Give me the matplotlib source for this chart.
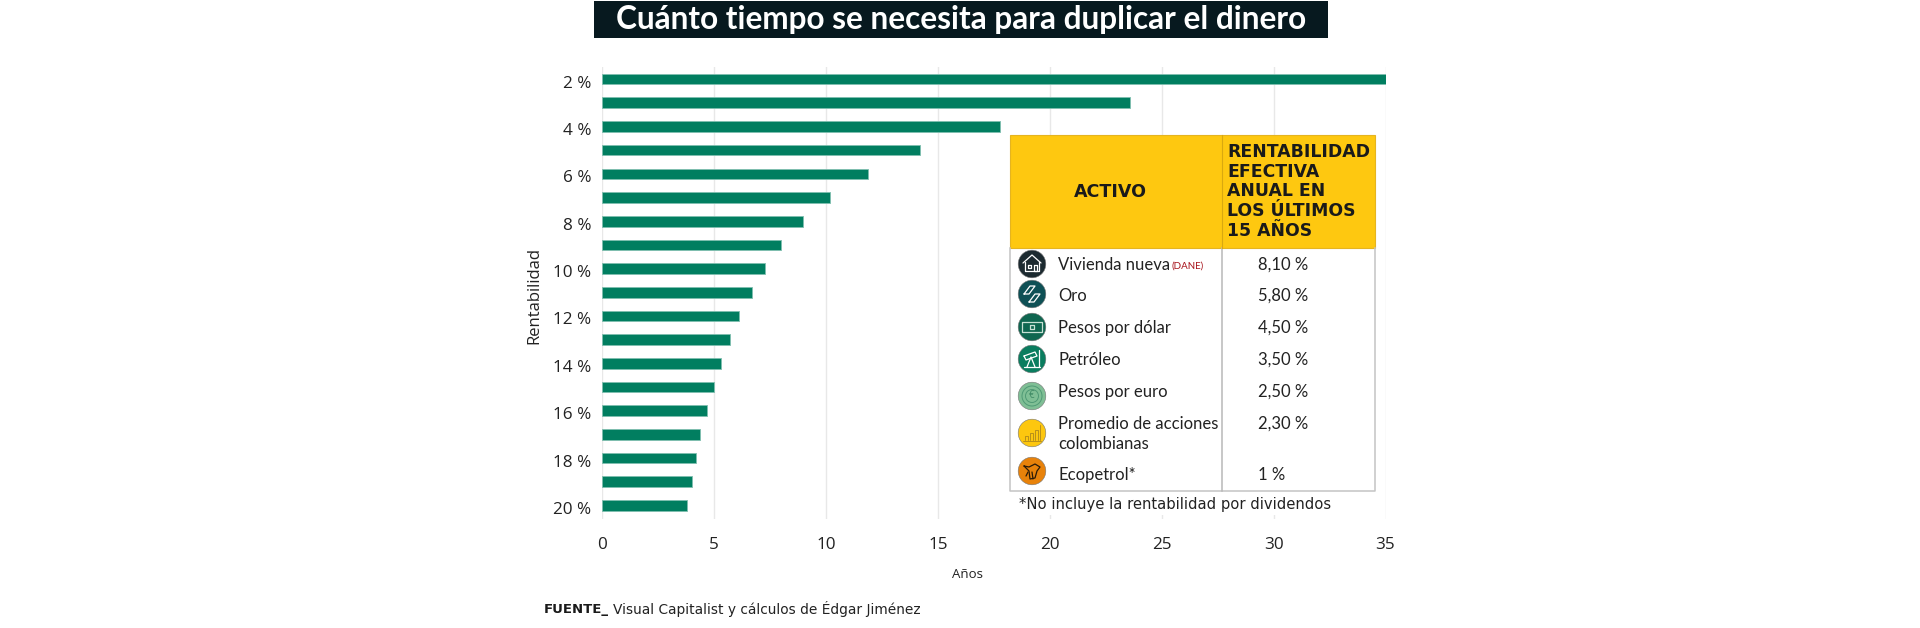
import matplotlib
matplotlib.use("Agg")
import matplotlib.pyplot as plt
from matplotlib.patches import Rectangle, Circle
from matplotlib.transforms import ScaledTranslation

# Data
rentabilidad = ["2 %", "", "4 %", "", "6 %", "", "8 %", "", "10 %", "", "12 %", "",
                "14 %", "", "16 %", "", "18 %", "", "20 %"]
anios = [35.0, 23.6, 17.8, 14.2, 11.9, 10.2, 9.0, 8.0, 7.3, 6.7, 6.1, 5.7, 5.3, 5.0,
         4.7, 4.4, 4.2, 4.0, 3.8]
x_ticks = [0, 5, 10, 15, 20, 25, 30, 35]

activos = ["Vivienda nueva", "Oro", "Pesos por dólar", "Petróleo", "Pesos por euro",
           "Promedio de acciones\ncolombianas", "Ecopetrol*"]
retornos = ["8,10 %", "5,80 %", "4,50 %", "3,50 %", "2,50 %", "2,30 %", "1 %"]
icon_colors = ["#1c2a30", "#0e5055", "#0f6650", "#0a7d5f", "#7fbf95", "#fdc70f", "#e8820a"]

GREEN = "#017e60"
TEXT = "#222222"
W, H = 1920, 628

plt.rcParams['font.family'] = ['Open Sans', 'DejaVu Sans']
fig = plt.figure(figsize=(W / 100, H / 100), dpi=100, facecolor="white")

# main chart, pixel box 602-1385.5 / 67-519
ax = fig.add_axes([602 / W, 1 - 519 / H, (1385.5 - 602) / W, (519 - 67) / H])
ax.barh(range(len(anios)), anios, height=0.45, color=GREEN, edgecolor="#7fbfaf",
        linewidth=0.6, zorder=3)
ax.set_xlim(0, 35)
ax.set_ylim(18.57, -0.51)
ax.set_yticks(range(len(rentabilidad)))
ax.set_yticklabels(rentabilidad, color=TEXT)
ax.set_xticks(x_ticks)
ax.tick_params(axis='both', length=0, labelsize=12.3, labelcolor=TEXT)
ax.tick_params(axis='x', pad=13)
ax.tick_params(axis='y', pad=7.5)
ax.grid(axis='x', color="#e8e8e8", linewidth=1, zorder=0)
for s in ax.spines.values():
    s.set_visible(False)
# y labels sit a little below their bars in the original
for lab in ax.get_yticklabels():
    lab.set_transform(lab.get_transform() + ScaledTranslation(0, -0.025, fig.dpi_scale_trans))

# overlay in pixel coordinates for title, table and notes
ov = fig.add_axes([0, 0, 1, 1], facecolor="none")
ov.set_xlim(0, W)
ov.set_ylim(H, 0)
ov.axis("off")

ov.text(534, 296, "Rentabilidad", rotation=90, ha="center", va="center", fontsize=12, color=TEXT)
ov.text(967, 574, "Años", ha="center", va="center", fontsize=9.5, color=TEXT)

# title banner
ov.add_patch(Rectangle((594, 1), 734, 37, facecolor="#07191f", edgecolor="none"))
ov.text(961, 19, "Cuánto tiempo se necesita para duplicar el dinero", ha="center", va="center",
        color="white", fontsize=22.7, fontweight="bold", family=["Lato", "DejaVu Sans"])

# table
L, R, DIV, TOP, HEAD, BOT = 1009.5, 1374.5, 1222, 135, 248, 491
HEADFONT = ["DejaVu Sans"]
ov.add_patch(Rectangle((L - 4, TOP), R - L + 8, 515 - TOP, facecolor="white", edgecolor="none", zorder=1))
ov.add_patch(Rectangle((L, TOP), R - L, HEAD - TOP, facecolor="#fec810", edgecolor="#e5b420", linewidth=0.8, zorder=2))
ov.plot([L, L, R, R], [HEAD, BOT, BOT, HEAD], color="#c4c4c4", lw=1.1, zorder=2)
ov.plot([DIV, DIV], [HEAD, BOT], color="#b8b8b8", lw=1.1, zorder=2)
ov.plot([DIV, DIV], [TOP, HEAD], color="#d9a80f", lw=0.8, zorder=3)

ov.text(1110, 192, "ACTIVO", ha="center", va="center", fontsize=12.6, fontweight="bold",
        color="#1a1a1a", family=HEADFONT, zorder=4)
header_lines = ["RENTABILIDAD", "EFECTIVA", "ANUAL EN", "LOS ÚLTIMOS", "15 AÑOS"]
for i, line in enumerate(header_lines):
    ov.text(1227, 152 + i * 19.7, line, ha="left", va="center", fontsize=12.4, fontweight="bold",
            color="#1a1a1a", family=HEADFONT, zorder=4)

row_y = [265, 296, 328, 360, 392, 424, 475]
icon_y = [264, 294, 327, 359, 396, 433, 471]
BODY = ["Lato", "DejaVu Sans"]
for name, val, y, iy, col in zip(activos, retornos, row_y, icon_y, icon_colors):
    ov.add_patch(Circle((1032, iy), 13.8, facecolor=col, edgecolor="#777777", linewidth=0.4, zorder=4))
    for k, part in enumerate(name.split("\n")):
        ov.text(1058, y + k * 20, part, ha="left", va="center", fontsize=12, color=TEXT,
                family=BODY, zorder=4)
    ov.text(1258, y, val, ha="left", va="center", fontsize=12, color=TEXT, family=BODY, zorder=4)
ov.text(1172, 266, "(DANE)", ha="left", va="center", fontsize=7, color="#a8141c", family=BODY, zorder=4)


def glyph(cx, cy, segs, color="white", lw=0.9):
    # small line icon, segs are offsets from the circle centre
    for seg in segs:
        ov.plot([cx + p[0] for p in seg], [cy + p[1] for p in seg], color=color, lw=lw, zorder=5,
                solid_capstyle="round")


glyph(1032, 264, [[(-9, -1), (0, -9), (9, -1)], [(-7, -2), (-7, 7), (7, 7), (7, -2)],
                  [(-4, 1), (-1, 1), (-1, 4), (-4, 4), (-4, 1)], [(2, 1), (5, 1), (5, 7), (2, 7), (2, 1)]])
glyph(1032, 294, [[(-8, 0), (-2, -8), (3, -8), (-3, 0), (-8, 0)], [(-3, 8), (3, 0), (8, 0), (2, 8), (-3, 8)]])
glyph(1032, 327, [[(-10, -5), (10, -5), (10, 5), (-10, 5), (-10, -5)], [(-2, -2), (2, -2), (2, 2), (-2, 2), (-2, -2)]],
      color="#c8e0d4")
glyph(1032, 359, [[(-8, 8), (8, 8)], [(-5, 8), (-1, -2), (3, 8)], [(-8, -3), (3, -7), (5, -3), (-6, 1), (-8, -3)],
                  [(7, -9), (7, 8)]])
ov.add_patch(Circle((1032, 396), 10, facecolor="none", edgecolor="#4f9a75", linewidth=0.7, zorder=5))
ov.add_patch(Circle((1032, 396), 6.5, facecolor="none", edgecolor="#4f9a75", linewidth=0.7, zorder=5))
ov.text(1032, 396, "€", ha="center", va="center", fontsize=7, color="#3f8a65", zorder=5)
glyph(1032, 433, [[(-7, 7), (-7, 3), (-4, 3), (-4, 7)], [(-2, 7), (-2, 0), (1, 0), (1, 7)],
                  [(3, 7), (3, -3), (6, -3), (6, 7)], [(-9, 8), (9, 8)], [(8, 7), (8, -8)]],
      color="#b8901a", lw=0.7)
glyph(1032, 471, [[(-8, -5), (-3, -4), (3, -7), (8, -4), (5, 0), (3, 7), (-2, 8), (-3, 0), (-8, -5)],
                  [(-6, 5), (-4, 1)], [(0, 1), (1, 8)]], color="#2a1a08", lw=0.9)

# notes
ov.text(1019, 504, "*No incluye la rentabilidad por dividendos", ha="left", va="center", fontsize=10.6,
        color=TEXT, family=["DejaVu Sans"], zorder=4)
ov.text(544, 609, "FUENTE_", ha="left", va="center", fontsize=9.5, fontweight="bold", color="#1a1a1a",
        family=["DejaVu Sans"])
ov.text(613, 609, "Visual Capitalist y cálculos de Édgar Jiménez", ha="left", va="center", fontsize=9.9,
        color=TEXT, family=["DejaVu Sans"])

fig.savefig("out.png", dpi=100)
